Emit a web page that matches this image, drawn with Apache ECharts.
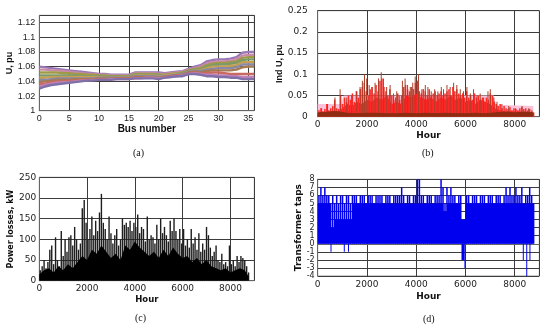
<!DOCTYPE html>
<html><head><meta charset="utf-8">
<script src="https://cdn.jsdelivr.net/npm/echarts/dist/echarts.min.js"></script>
<style>html,body{margin:0;padding:0;background:#fff}#c{width:550px;height:331px}</style>
</head><body><div id="c"></div>
<script>
// ---------- (a) voltage profiles along the feeder ----------
const busNumbers = [0,1,2,3,4,5,6,7,8,9,10,11,12,13,14,15,16,17,18,19,20,21,22,23,24,25,26,27,28,29,30,31,32,33,34,35,36];
const u1 = [1.060,1.059,1.058,1.057,1.056,1.055,1.054,1.053,1.052,1.051,1.050,1.050,1.049,1.049,1.049,1.049,1.052,1.052,1.052,1.052,1.052,1.051,1.052,1.053,1.054,1.057,1.060,1.062,1.067,1.069,1.070,1.070,1.071,1.073,1.079,1.080,1.080];
const u2 = [1.056,1.056,1.055,1.055,1.054,1.053,1.052,1.051,1.050,1.050,1.049,1.049,1.048,1.048,1.048,1.048,1.051,1.051,1.051,1.051,1.050,1.050,1.051,1.052,1.053,1.056,1.058,1.060,1.064,1.066,1.067,1.067,1.068,1.070,1.075,1.076,1.076];
const u3 = [1.052,1.052,1.052,1.052,1.051,1.051,1.050,1.050,1.049,1.049,1.048,1.048,1.047,1.047,1.047,1.047,1.050,1.050,1.050,1.050,1.049,1.049,1.050,1.051,1.052,1.055,1.057,1.058,1.062,1.064,1.065,1.065,1.066,1.067,1.072,1.073,1.073];
const u4 = [1.048,1.048,1.048,1.048,1.048,1.048,1.048,1.047,1.047,1.047,1.047,1.046,1.046,1.046,1.046,1.046,1.049,1.049,1.049,1.049,1.048,1.048,1.049,1.050,1.051,1.054,1.056,1.056,1.060,1.062,1.063,1.063,1.064,1.065,1.069,1.070,1.070];
const u5 = [1.045,1.045,1.046,1.046,1.046,1.046,1.046,1.046,1.046,1.046,1.046,1.045,1.045,1.045,1.045,1.045,1.048,1.048,1.048,1.048,1.047,1.048,1.049,1.050,1.050,1.053,1.055,1.055,1.058,1.060,1.060,1.060,1.061,1.062,1.066,1.066,1.066];
const u6 = [1.042,1.042,1.043,1.044,1.044,1.044,1.044,1.044,1.044,1.044,1.045,1.045,1.045,1.045,1.045,1.045,1.047,1.047,1.047,1.047,1.046,1.047,1.048,1.049,1.050,1.053,1.054,1.054,1.056,1.057,1.058,1.058,1.058,1.059,1.063,1.063,1.063];
const u7 = [1.039,1.040,1.041,1.042,1.042,1.042,1.043,1.043,1.043,1.043,1.044,1.044,1.044,1.044,1.044,1.044,1.046,1.046,1.046,1.046,1.045,1.046,1.047,1.048,1.049,1.052,1.053,1.052,1.054,1.055,1.055,1.055,1.055,1.056,1.059,1.060,1.060];
const u8 = [1.036,1.037,1.039,1.040,1.040,1.041,1.041,1.042,1.042,1.042,1.043,1.043,1.043,1.044,1.044,1.044,1.045,1.045,1.045,1.045,1.044,1.046,1.047,1.048,1.048,1.051,1.052,1.051,1.051,1.052,1.052,1.051,1.050,1.050,1.050,1.050,1.050];
const u9 = [1.033,1.035,1.037,1.038,1.039,1.039,1.040,1.041,1.041,1.042,1.042,1.042,1.043,1.043,1.043,1.043,1.044,1.044,1.045,1.045,1.044,1.045,1.046,1.047,1.048,1.050,1.051,1.050,1.049,1.049,1.048,1.048,1.047,1.047,1.046,1.046,1.046];
const u10 = [1.030,1.033,1.035,1.036,1.037,1.038,1.039,1.040,1.041,1.041,1.042,1.042,1.042,1.043,1.043,1.043,1.044,1.044,1.044,1.044,1.043,1.045,1.046,1.047,1.047,1.050,1.050,1.049,1.047,1.047,1.046,1.046,1.045,1.045,1.043,1.043,1.043];
const voltageProfiles = [u1,u2,u3,u4,u5,u6,u7,u8,u9,u10];
const profileColors = ['#9a78b8','#c98aa8','#a09a48','#7a9a6a','#c4a050','#8a88a8','#a47a52','#c86a60','#c080b8','#8070a8'];

// ---------- (b) index of voltage, hourly (sampled every 80 h) ----------
const redSpikes = [0.015,0.02,0.012,0.018,0.03,0.015,0.02,0.025,0.04,0.02,0.018,0.05,
 0.03,0.045,0.035,0.05,0.04,0.055,0.035,0.06,0.045,0.065,0.07,0.08,
 0.06,0.05,0.065,0.07,0.055,0.075,0.06,0.085,0.09,0.07,0.06,0.05,
 0.065,0.05,0.04,0.045,0.055,0.04,0.05,0.07,0.075,0.065,0.06,0.07,
 0.065,0.08,0.085,0.06,0.055,0.065,0.06,0.05,0.065,0.05,0.055,0.06,
 0.05,0.055,0.06,0.05,0.055,0.06,0.065,0.05,0.07,0.06,0.065,0.055,
 0.05,0.055,0.045,0.06,0.045,0.05,0.04,0.055,0.045,0.05,0.04,0.045,
 0.035,0.045,0.04,0.055,0.05,0.035,0.03,0.025,0.03,0.02,0.025,0.02,
 0.018,0.022,0.015,0.02,0.018,0.015,0.02,0.022,0.018,0.02,0.015,0.018,0.012,0.01];
const brownPeakHours = [160,400,700,910,1180,1380,1590,1720,1815,1900,1990,2090,2200,2330,2470,2580,2670,2800,2940,3080,3210,3310,3440,3550,3650,3760,3860,3960,4095,4230,4370,4475,4610,4750,4880,5020,5110,5250,5380,5520,5650,5790,5920,6060,6200,6330,6470,6600,6740,6915,7010,7150,7280,7480,7760,8030,8300,8570,8700];
const brownPeaks = [0.02,0.03,0.045,0.065,0.045,0.05,0.06,0.07,0.085,0.1,0.09,0.075,0.07,0.08,0.09,0.105,0.09,0.07,0.075,0.055,0.06,0.05,0.085,0.09,0.075,0.07,0.08,0.095,0.1,0.065,0.075,0.07,0.06,0.065,0.06,0.07,0.065,0.075,0.07,0.08,0.075,0.065,0.06,0.07,0.055,0.065,0.05,0.055,0.045,0.06,0.065,0.045,0.035,0.03,0.025,0.02,0.025,0.02,0.015];
const pinkHours = [0,950,1050,7150,7250,8760];
const pinkVals = [0.03,0.03,0.05,0.05,0.028,0.025];
const fineHours = [0,200,400,600,800,1000,1200,1400,1600,1800,2000,2200,2400,2600,2800,3000,3200,3400,3600,3800,4000,4200,4400,4600,4800,5000,5200,5400,5600,5800,6000,6200,6400,6600,6800,7000,7200,7400,7600,7800,8000,8200,8400,8600,8760];
const redCore = [0.008,0.012,0.01,0.014,0.01,0.02,
 0.03,0.025,0.035,0.03,0.04,
 0.035,0.045,0.04,0.05,0.03,
 0.035,0.03,0.05,0.045,0.055,
 0.045,0.04,0.045,0.035,0.045,
 0.04,0.05,0.04,0.045,0.035,
 0.04,0.03,0.04,0.035,0.03,
 0.02,0.015,0.012,0.014,0.012,
 0.013,0.01,0.012,0.008];
const coarseHours = [0,400,800,1200,1600,2000,2400,2800,3200,3600,4000,4400,4800,5200,5600,6000,6400,6800,7200,7600,8000,8400,8760];
const brownBase = [0.009,0.011,0.012,0.008,0.007,0.008,0.008,0.007,0.007,0.008,0.007,0.008,0.007,0.008,0.007,0.007,0.008,0.007,0.009,0.011,0.009,0.011,0.009];

// ---------- (c) power losses, kW ----------
const lossSpikes = [25,35,50,30,45,75,85,40,105,50,35,120,
 60,100,70,105,110,85,130,100,75,90,175,195,
 140,100,125,155,110,145,120,165,210,140,125,100,
 155,115,90,110,125,85,100,150,135,140,130,145,
 120,140,130,160,115,130,125,95,155,100,110,105,
 90,135,100,150,115,130,110,95,145,120,150,120,
 100,125,90,125,85,100,80,125,90,105,75,115,
 70,90,75,130,110,80,60,70,85,50,45,65,
 40,45,35,85,40,50,35,60,45,60,55,50,35,20];
const lossCore = [15,25,30,20,35,25,40,30,45,60,
 50,75,65,85,70,55,65,50,85,75,
 95,80,70,60,70,55,75,60,80,65,
 55,60,45,55,40,50,35,30,25,30,
 20,25,30,25,10];

// ---------- (d) transformer taps ----------
const tapMax = [6,7,6,7,6,6,5,6,5,6,5,6,
 6,5,6,6,5,6,6,6,5,6,6,6,
 5,6,6,6,5,6,6,6,6,5,6,6,
 6,5,6,6,6,6,7,6,5,6,6,5,
 6,6,8,8,6,6,5,6,6,6,5,6,
 6,6,8,7,5,7,6,7,6,6,5,6,
 6,3,3,6,6,5,6,6,6,5,6,6,
 6,5,6,6,6,5,6,6,6,5,6,7,
 6,7,6,6,7,6,6,7,5,6,6,7,6,5];
const tapSolidHours = [0,500,500,700,700,1400,1400,5100,5100,5250,5250,5820,5820,5990,5990,8760];
const tapSolidVals = [5,5,2,2,3,3,5,5,4,4,5,5,3,3,5,5];
const tapDipHours = [5840,5960];
const tapDipVals = [-2,-2];
const tapNegHours = [540,1080,1250,5980,8350,8490,8620];
const tapNegVals = [-1,-1,-1,-3,-2,-4,-2];

const sampleStep = 80;
const sampleHours = lossSpikes.map((_, i) => 40 + sampleStep * i);
const pairs = (xs, ys) => xs.map((x, i) => [x, ys[i]]);

const DV = 'DejaVu Sans', LS = 'Liberation Sans';
const fmt = v => String(+(+v).toFixed(4));
const lab = (fam, margin, extra) => Object.assign({fontFamily: fam, fontSize: 9, color: '#222', margin: margin, formatter: fmt, showMinLabel: true, hideOverlap: false}, extra || {});
const nm = (fam, size) => ({fontFamily: fam, fontSize: size, fontWeight: 'bold', color: '#111'});
function ax(o) {
  return Object.assign({
    type: 'value', nameLocation: 'middle', axisTick: {show: false},
    axisLine: {show: true, lineStyle: {color: '#666', width: 1}},
    splitLine: {show: true, lineStyle: {color: '#3c3c3c', width: 1}}
  }, o);
}
const gridBase = {show: true, borderColor: '#9a9a9a', borderWidth: 1, backgroundColor: '#fff'};

const series = [];
// (a)
voltageProfiles.forEach((p, k) => series.push({type: 'line', xAxisIndex: 0, yAxisIndex: 0, data: pairs(busNumbers, p), symbol: 'none', lineStyle: {width: 2.4, color: profileColors[k]}, z: 3}));
// (b)
series.push({type: 'line', xAxisIndex: 1, yAxisIndex: 1, z: 1, data: pairs(pinkHours, pinkVals), symbol: 'none', lineStyle: {width: 0}, areaStyle: {color: '#fbc3d9', opacity: 1}});
series.push({type: 'line', xAxisIndex: 1, yAxisIndex: 1, z: 2, data: pairs(fineHours, redCore), symbol: 'none', lineStyle: {width: 0}, areaStyle: {color: '#ff1c1c', opacity: 1}});
series.push({type: 'bar', xAxisIndex: 1, yAxisIndex: 1, z: 3, data: pairs(sampleHours, redSpikes), barWidth: 1.5, barGap: '-100%', itemStyle: {color: '#ff2a2a'}});
series.push({type: 'bar', xAxisIndex: 1, yAxisIndex: 1, z: 4, data: pairs(brownPeakHours, brownPeaks), barWidth: 1, barGap: '-100%', itemStyle: {color: '#a8402a'}});
series.push({type: 'line', xAxisIndex: 1, yAxisIndex: 1, z: 5, data: pairs(coarseHours, brownBase), symbol: 'none', lineStyle: {width: 1, color: '#8e2c12'}, areaStyle: {color: '#8e2c12', opacity: 1}});
// (c)
series.push({type: 'bar', xAxisIndex: 2, yAxisIndex: 2, z: 2, data: pairs(sampleHours, lossSpikes), barWidth: 1.4, itemStyle: {color: '#1e1e1e'}});
series.push({type: 'line', xAxisIndex: 2, yAxisIndex: 2, z: 3, data: pairs(fineHours, lossCore), symbol: 'none', lineStyle: {width: 0}, areaStyle: {color: '#000', opacity: 1}});
// (d)
series.push({type: 'bar', xAxisIndex: 3, yAxisIndex: 3, z: 2, data: pairs(sampleHours, tapMax), barWidth: 1.5, barGap: '-100%', itemStyle: {color: '#0000ee'}});
series.push({type: 'line', xAxisIndex: 3, yAxisIndex: 3, z: 3, data: pairs(tapSolidHours, tapSolidVals), symbol: 'none', lineStyle: {width: 0}, areaStyle: {color: '#0000ee', opacity: 1}});
series.push({type: 'line', xAxisIndex: 3, yAxisIndex: 3, z: 3, data: pairs(tapDipHours, tapDipVals), symbol: 'none', lineStyle: {width: 0}, areaStyle: {color: '#0000ee', opacity: 1}});
series.push({type: 'bar', xAxisIndex: 3, yAxisIndex: 3, z: 4, data: pairs(tapNegHours, tapNegVals), barWidth: 1, barGap: '-100%', itemStyle: {color: '#0000ee'}});

const option = {
  animation: false,
  backgroundColor: '#fff',
  grid: [
    Object.assign({left: 39.3, top: 15.3, width: 215, height: 95.4}, gridBase),
    Object.assign({left: 317.7, top: 10.7, width: 221.6, height: 106}, gridBase),
    Object.assign({left: 39.3, top: 177.3, width: 215, height: 103.4}, gridBase),
    Object.assign({left: 317.7, top: 179.3, width: 221.6, height: 96.7}, gridBase)
  ],
  xAxis: [
    ax({gridIndex: 0, min: 0, max: 36, interval: 5, axisLabel: lab(LS, 3, {showMaxLabel: false}), name: 'Bus number', nameGap: 14, nameTextStyle: nm(LS, 10)}),
    ax({gridIndex: 1, min: 0, max: 9000, interval: 2000, axisLabel: lab(DV, 3, {showMaxLabel: false}), name: 'Hour', nameGap: 14, nameTextStyle: nm(DV, 9)}),
    ax({gridIndex: 2, min: 0, max: 9000, interval: 2000, axisLabel: lab(DV, 3, {showMaxLabel: false}), name: 'Hour', nameGap: 15, nameTextStyle: nm(DV, 8.5)}),
    ax({gridIndex: 3, min: 0, max: 9000, interval: 2000, axisLabel: lab(DV, 4, {showMaxLabel: false}), name: 'Hour', nameGap: 16, nameTextStyle: nm(DV, 9)})
  ],
  yAxis: [
    ax({gridIndex: 0, min: 1, max: 1.13, interval: 0.02, axisLabel: lab(LS, 4, {showMaxLabel: false}), name: 'U, pu', nameGap: 24, nameTextStyle: nm(LS, 9)}),
    ax({gridIndex: 1, min: 0, max: 0.25, interval: 0.05, axisLabel: lab(DV, 10, {showMaxLabel: true}), name: 'Ind U, pu', nameGap: 23, nameTextStyle: nm(LS, 9)}),
    ax({gridIndex: 2, min: 0, max: 250, interval: 50, axisLabel: lab(DV, 3, {showMaxLabel: true}), name: 'Power losses, kW', nameGap: 21, nameTextStyle: nm(DV, 8)}),
    ax({gridIndex: 3, min: -4, max: 8.0001, interval: 1, axisLabel: lab(DV, 3, {showMaxLabel: false, fontSize: 8, lineHeight: 7}), name: 'Transformer taps', nameGap: 14, nameTextStyle: nm(DV, 9)})
  ],
  graphic: [
    {type: 'text', left: 133, top: 148, style: {text: '(a)', font: '10px "Liberation Serif"', fill: '#111'}},
    {type: 'text', left: 422, top: 148, style: {text: '(b)', font: '10px "Liberation Serif"', fill: '#111'}},
    {type: 'text', left: 135, top: 313, style: {text: '(c)', font: '10px "Liberation Serif"', fill: '#111'}},
    {type: 'text', left: 423, top: 314, style: {text: '(d)', font: '10px "Liberation Serif"', fill: '#111'}}
  ],
  series: series
};
const chart = echarts.init(document.getElementById('c'));
chart.setOption(option);
</script></body></html>
